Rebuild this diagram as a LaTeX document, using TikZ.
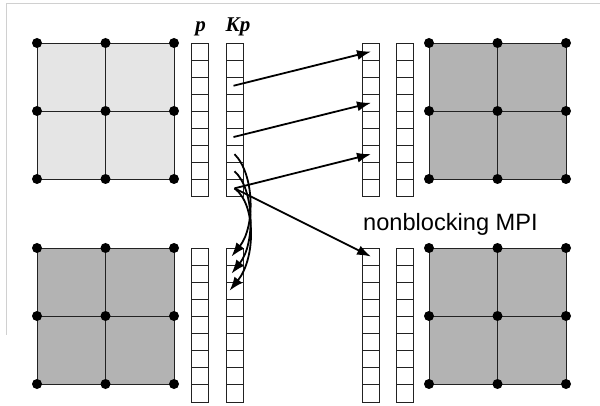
\documentclass[tikz,border=0pt]{standalone}
\usepackage{fontspec}
\setmainfont{Liberation Serif}
\setsansfont{Liberation Sans}
\usetikzlibrary{arrows.meta}
\definecolor{gridlight}{HTML}{E5E5E5}
\definecolor{griddark}{HTML}{B3B3B3}
\definecolor{framegray}{HTML}{D0D0D0}
\definecolor{lineblk}{HTML}{222222}
\begin{document}
\begin{tikzpicture}[x=1pt,y=-1pt,
  cell/.style={draw=lineblk, line width=0.8pt, minimum width=17pt, minimum height=17.1pt, inner sep=0pt, outer sep=0pt},
  dot/.style={circle, fill=black, inner sep=0pt, minimum size=10pt},
  gline/.style={draw=lineblk, line width=0.9pt},
  arr/.style={line width=1.8pt, -{Latex[length=14pt,width=10pt]}},
  lbl/.style={anchor=base, inner sep=0pt, font=\bfseries\itshape\fontsize{21}{21}\selectfont},
  framestyle/.style={draw=framegray, line width=1pt}]
\useasboundingbox (0,0) rectangle (600,406);
% frame
\coordinate (f1) at (600,4);
\coordinate (f2) at (6,4);
\coordinate (f3) at (6,335);
\draw[framestyle] (f1) -- (f2) -- (f3);
% grids
\foreach \nm/\x/\y/\c in {tl/37/43/gridlight, tr/429/43/griddark, bl/37/248/griddark, br/429/248/griddark}{
  \foreach \i in {0,1,2}{
    \foreach \j in {0,1,2}{
      \coordinate (\nm-c\i\j) at ({\x+\i*68.5},{\y+\j*68});
    }
  }
  \fill[\c] (\nm-c00) rectangle (\nm-c22);
  \foreach \k in {0,1,2}{
    \draw[gline] (\nm-c0\k) -- (\nm-c2\k);
    \draw[gline] (\nm-c\k0) -- (\nm-c\k2);
  }
  \foreach \i in {0,1,2}{
    \foreach \j in {0,1,2}{
      \node[dot] (\nm-d\i\j) at (\nm-c\i\j) {};
    }
  }
}
% arrays
\foreach \nm/\x/\y in {tlp/200/43, tlk/234.5/43, trA/371/43, trB/405/43, blp/200/248, blk/234.5/248, brA/371/248, brB/405/248}{
  \foreach \k in {1,...,9}{
    \node[cell] (\nm-\k) at (\x,{\y+(\k-0.5)*17.1}) {};
  }
}
% labels
\node[lbl] (lp) at (200.5,32) {p};
\node[lbl] (lkp) at (238,32) {Kp};
\node[anchor=base west, inner sep=0pt, font=\sffamily\fontsize{23.6}{23.6}\selectfont] (lmpi) at (363,231) {nonblocking MPI};
% straight arrows
\draw[arr] ([xshift=-1pt]tlk-3.center) -- (trA-1.center);
\draw[arr] ([xshift=-1pt]tlk-6.center) -- (trA-4.center);
\draw[arr] (tlk-9.center) -- (trA-7.center);
\draw[arr] (tlk-9.center) -- (brA-1.center);
% curved arrows
\draw[arr] (tlk-7.center) .. controls +(20,20) and +(24,-30) .. ([xshift=-3pt]blk-1.center);
\draw[arr] (tlk-8.center) .. controls +(20,18) and +(24,-30) .. ([xshift=-3pt]blk-2.center);
\draw[arr] (tlk-9.center) .. controls +(22,16) and +(26,-32) .. ([xshift=-5pt]blk-3.center);
\end{tikzpicture}
\end{document}
